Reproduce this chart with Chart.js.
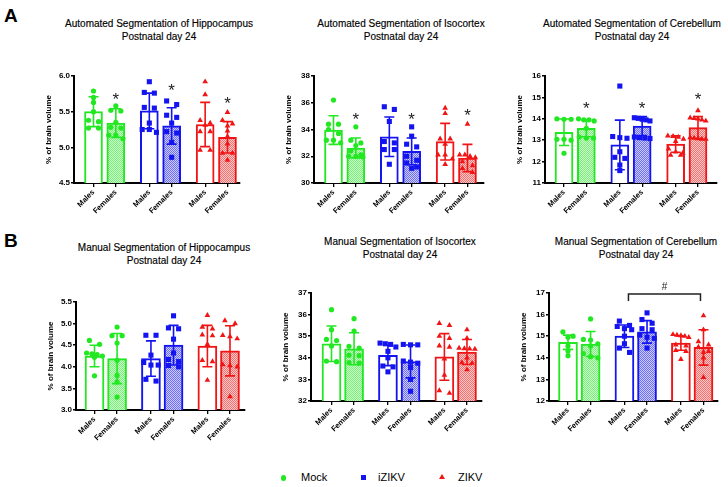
<!DOCTYPE html>
<html>
<head>
<meta charset="utf-8">
<script src="https://cdn.jsdelivr.net/npm/chart.js@4.4.0/dist/chart.umd.min.js"></script>
<style>
    body {
        margin: 0;
        width: 728px;
        height: 487px;
        background: #fff;
        position: relative;
        overflow: hidden;
        font-family: 'Liberation Sans', Arial, sans-serif;
    }
    canvas { position: absolute; }
    .panel-title {
        position: absolute;
        font-size: 10px;
        line-height: 12.5px;
        color: #000;
        text-align: center;
        white-space: nowrap;
        transform: translateX(-50%);
        -webkit-text-stroke: 0.15px #000;
    }
    .tag { position: absolute; font-size: 19px; font-weight: bold; color: #000; }
    .lg-text { position: absolute; font-size: 11px; line-height: 13px; color: #000; }
    .lg-mark { position: absolute; }
</style>
</head>
<body>

<div class="tag" style="left:4px; top:5px">A</div>
<div class="tag" style="left:4px; top:230px">B</div>

<div class="panel-title" style="left:159px; top:18px">Automated Segmentation of Hippocampus<br>Postnatal day 24</div>
<div class="panel-title" style="left:401px; top:18px">Automated Segmentation of Isocortex<br>Postnatal day 24</div>
<div class="panel-title" style="left:632px; top:18px">Automated Segmentation of Cerebellum<br>Postnatal day 24</div>
<div class="panel-title" style="left:164px; top:242px">Manual Segmentation of Hippocampus<br>Postnatal day 24</div>
<div class="panel-title" style="left:400px; top:236px">Manual Segmentation of Isocortex<br>Postnatal day 24</div>
<div class="panel-title" style="left:636px; top:236px">Manual Segmentation of Cerebellum<br>Postnatal day 24</div>

<!-- legend -->
<div class="lg-mark" style="left:280.5px; top:475px; width:5.5px; height:5.5px; border-radius:50%; background:#22e822"></div>
<div class="lg-text" style="left:301px; top:471px">Mock</div>
<div class="lg-mark" style="left:360.5px; top:474.5px; width:5px; height:5px; background:#1414f0"></div>
<div class="lg-text" style="left:378px; top:471px">iZIKV</div>
<div class="lg-mark" style="left:439px; top:474px; width:0; height:0; border-left:3px solid transparent; border-right:3px solid transparent; border-bottom:5.5px solid #f01414"></div>
<div class="lg-text" style="left:458px; top:471px">ZIKV</div>

<script>
Chart.defaults.font.family = "'Liberation Sans', Arial, sans-serif";

// ============== DATA ==============
const categories = ['Males', 'Females', 'Males', 'Females', 'Males', 'Females'];
const groups = ['Mock', 'Mock', 'iZIKV', 'iZIKV', 'ZIKV', 'ZIKV'];
const slots = [0, 1, 2.5, 3.5, 5, 6];

// A - automated segmentation, hippocampus
const autoHippoTicks = [4.5, 5.0, 5.5, 6.0];
const autoHippoMean = [5.50, 5.34, 5.51, 5.30, 5.32, 5.14];
const autoHippoSD = [0.21, 0.20, 0.25, 0.255, 0.31, 0.22];
const autoHippoPts = [
    [5.79, 5.70, 5.63, 5.50, 5.38, 5.36, 5.27, 5.27],
    [5.58, 5.52, 5.51, 5.35, 5.28, 5.27, 5.17, 5.17, 5.12],
    [5.92, 5.77, 5.76, 5.56, 5.55, 5.34, 5.25, 5.25, 5.21],
    [5.65, 5.60, 5.45, 5.42, 5.34, 5.22, 5.20, 5.07, 4.86],
    [5.92, 5.74, 5.38, 5.34, 5.31, 5.22, 5.22, 4.96, 4.96],
    [5.49, 5.38, 5.33, 5.30, 5.23, 5.15, 5.05, 4.92, 4.92, 4.82]
];
const autoHippoStars = [null, 5.73, null, 5.85, null, 5.68];

// A - automated segmentation, isocortex
const autoIsoTicks = [30, 32, 34, 36, 38];
const autoIsoMean = [33.96, 32.62, 33.46, 32.37, 33.09, 31.87];
const autoIsoSD = [1.07, 0.74, 1.48, 1.0, 1.37, 1.02];
const autoIsoPts = [
    [36.2, 34.4, 34.4, 34.0, 33.7, 33.2, 33.2, 33.0],
    [34.2, 33.2, 33.0, 32.8, 32.4, 32.1, 32.0, 32.0, 31.95],
    [35.7, 35.5, 34.6, 33.1, 33.0, 32.5, 32.5, 31.4],
    [34.2, 33.5, 32.9, 32.7, 32.0, 31.7, 31.5, 31.2, 31.1],
    [35.6, 35.2, 33.3, 33.3, 32.9, 32.1, 32.1, 31.8, 31.4],
    [34.4, 32.1, 32.1, 32.0, 31.9, 31.6, 31.3, 31.1, 30.8]
];
const autoIsoStars = [null, 35.08, null, 35.08, null, 35.33];

// A - automated segmentation, cerebellum
const autoCereTicks = [11, 12, 13, 14, 15, 16];
const autoCereMean = [13.37, 13.55, 12.78, 13.66, 12.82, 13.59];
const autoCereSD = [0.62, 0.39, 1.16, 0.44, 0.38, 0.51];
const autoCerePts = [
    [14.0, 13.98, 13.98, 13.04, 13.04, 13.0, 12.39],
    [14.0, 13.95, 13.95, 13.9, 13.55, 13.15, 13.1, 13.1],
    [15.53, 13.17, 13.12, 13.09, 12.46, 12.2, 12.15, 11.84, 11.58],
    [14.05, 14.02, 13.98, 13.95, 13.9, 13.15, 13.12, 13.1, 13.08],
    [13.2, 13.18, 13.15, 13.05, 12.95, 12.6, 12.45, 12.4, 12.3, 12.3],
    [14.38, 14.05, 14.02, 14.0, 13.95, 13.9, 13.12, 13.1, 13.08, 13.05, 13.05]
];
const autoCereStars = [null, 14.69, null, 14.69, null, 15.11];

// B - manual segmentation, hippocampus
const manHippoTicks = [3.0, 3.5, 4.0, 4.5, 5.0, 5.5];
const manHippoMean = [4.25, 4.19, 4.19, 4.50, 4.48, 4.37];
const manHippoSD = [0.25, 0.58, 0.41, 0.46, 0.48, 0.58];
const manHippoPts = [
    [4.61, 4.52, 4.32, 4.30, 4.28, 4.25, 4.22, 3.79],
    [4.92, 4.72, 4.72, 4.55, 4.15, 3.80, 3.65, 3.30],
    [4.73, 4.73, 4.27, 4.10, 4.04, 4.04, 3.71, 3.67],
    [5.18, 4.90, 4.88, 4.64, 4.32, 4.17, 4.12, 4.03, 4.00],
    [5.19, 4.92, 4.88, 4.74, 4.72, 4.52, 4.15, 4.12, 3.69],
    [5.07, 5.00, 4.73, 4.70, 4.65, 4.05, 4.03, 4.00, 3.31]
];

// B - manual segmentation, isocortex
const manIsoTicks = [32, 33, 34, 35, 36, 37];
const manIsoMean = [34.65, 34.42, 34.11, 33.83, 34.04, 34.27];
const manIsoSD = [0.82, 0.74, 0.47, 0.76, 1.08, 0.58];
const manIsoPts = [
    [36.23, 35.3, 34.85, 34.8, 34.55, 33.85, 33.82],
    [35.81, 35.24, 34.53, 34.45, 34.12, 34.1, 33.78, 33.75],
    [34.68, 34.65, 34.62, 34.5, 34.3, 34.0, 33.62, 33.58, 33.35],
    [34.62, 34.6, 34.6, 33.85, 33.8, 33.75, 33.55, 33.0, 32.45],
    [35.6, 35.5, 35.0, 34.9, 34.55, 34.5, 33.95, 33.2, 32.48, 32.36],
    [35.3, 34.9, 34.45, 34.43, 34.42, 34.4, 34.0, 33.78, 33.75, 33.45]
];

// B - manual segmentation, cerebellum
const manCereTicks = [12, 13, 14, 15, 16, 17];
const manCereMean = [14.72, 14.64, 15.0, 15.2, 14.68, 14.48];
const manCereSD = [0.33, 0.58, 0.52, 0.52, 0.33, 0.82];
const manCerePts = [
    [15.2, 15.0, 14.95, 14.55, 14.32, 14.1],
    [15.8, 14.85, 14.82, 14.65, 14.55, 14.2, 14.05, 14.0],
    [15.7, 15.5, 15.45, 15.35, 15.3, 15.0, 14.65, 14.45, 14.25],
    [16.08, 15.77, 15.6, 15.35, 15.3, 15.05, 14.95, 14.9, 14.45],
    [15.08, 15.05, 15.03, 15.0, 14.95, 14.6, 14.55, 14.35, 14.3, 13.93],
    [15.95, 15.3, 14.75, 14.6, 14.5, 14.3, 14.25, 14.0, 13.1]
];
// iZIKV males vs ZIKV females
const manCereBracket = { from: 2, to: 5, y: 16.95, label: '#' };

// ============== STYLE ==============
const groupColors = {
    'Mock': '#22e822',
    'iZIKV': '#1414f0',
    'ZIKV': '#f01414'
};
const groupShapes = {
    'Mock': { style: 'circle', radius: 2.6 },
    'iZIKV': { style: 'rect', radius: 3.6 },
    'ZIKV': { style: 'triangle', radius: 3.3 }
};

// fine checkered fill used for the female bars
function checker(color) {
    const c = document.createElement('canvas');
    c.width = c.height = 2;
    const g = c.getContext('2d');
    g.fillStyle = '#fff';
    g.fillRect(0, 0, 2, 2);
    g.fillStyle = color;
    g.globalAlpha = 0.22;
    g.fillRect(0, 0, 2, 2);
    g.globalAlpha = 0.5;
    g.fillRect(0, 0, 1, 1);
    g.fillRect(1, 1, 1, 1);
    return g.createPattern(c, 'repeat');
}

// spread points of (almost) equal value side by side, like a column scatter
function columnScatter(values, center, tol) {
    const sorted = [...values].sort((a, b) => b - a);
    const pts = [];
    let k = 0;
    while (k < sorted.length) {
        let j = k;
        while (j + 1 < sorted.length && sorted[k] - sorted[j + 1] < tol) j++;
        const n = j - k + 1;
        const step = n === 1 ? 0 : n === 2 ? 0.45 : Math.min(0.32, 0.7 / (n - 1));
        for (let m = 0; m < n; m++) {
            pts.push({ x: center + (m - (n - 1) / 2) * step, y: sorted[k + m] });
        }
        k = j + 1;
    }
    return pts;
}

// error bars, asterisks and the bracket
const extrasPlugin = {
    id: 'extras',
    afterDatasetDraw(chart, args, opts) {
        if (args.meta.type !== 'bar') return;
        const { ctx, scales: { x, y } } = chart;
        ctx.save();
        ctx.lineWidth = 1.6;
        opts.means.forEach((m, i) => {
            const px = x.getPixelForValue(slots[i]);
            const top = y.getPixelForValue(m + opts.sds[i]);
            const bot = y.getPixelForValue(m - opts.sds[i]);
            ctx.strokeStyle = groupColors[groups[i]];
            ctx.beginPath();
            ctx.moveTo(px, top); ctx.lineTo(px, bot);
            ctx.moveTo(px - 5, top); ctx.lineTo(px + 5, top);
            ctx.moveTo(px - 5, bot); ctx.lineTo(px + 5, bot);
            ctx.stroke();
        });
        ctx.restore();
    },
    afterDraw(chart, args, opts) {
        const { ctx, scales: { x, y } } = chart;
        ctx.save();
        ctx.fillStyle = '#222';
        ctx.textAlign = 'center';
        if (opts.stars) {
            ctx.font = "17px 'Liberation Sans', Arial, sans-serif";
            ctx.textBaseline = 'alphabetic';
            opts.stars.forEach((s, i) => {
                if (s === null) return;
                ctx.fillText('*', x.getPixelForValue(slots[i]), y.getPixelForValue(s) + 0.57 * 17);
            });
        }
        if (opts.bracket) {
            const b = opts.bracket;
            const x1 = x.getPixelForValue(slots[b.from]) + 4;
            const x2 = x.getPixelForValue(slots[b.to]) - 3;
            const yy = y.getPixelForValue(b.y);
            ctx.strokeStyle = '#222';
            ctx.lineWidth = 1.5;
            ctx.beginPath();
            ctx.moveTo(x1, yy + 7); ctx.lineTo(x1, yy); ctx.lineTo(x2, yy); ctx.lineTo(x2, yy + 7);
            ctx.stroke();
            ctx.font = "10px 'Liberation Sans', Arial, sans-serif";
            ctx.textBaseline = 'bottom';
            ctx.fillText(b.label, (x1 + x2) / 2, yy - 2);
        }
        ctx.restore();
    }
};

// ============== PANELS ==============
const padL = 70, padT = 14, padR = 10, padB = 52;

function makePanel(cfg) {
    const { box, c0, unit, ticks, decimals, means, sds, pts } = cfg;
    const canvas = document.createElement('canvas');
    canvas.width = box.r - box.l + padL + padR;
    canvas.height = box.b - box.t + padT + padB;
    canvas.style.left = (box.l - padL) + 'px';
    canvas.style.top = (box.t - padT) + 'px';
    canvas.style.width = canvas.width + 'px';
    canvas.style.height = canvas.height + 'px';
    document.body.appendChild(canvas);

    const yMin = ticks[0], yMax = ticks[ticks.length - 1];
    const tol = (yMax - yMin) * 0.04;

    const barDataset = {
        type: 'bar',
        order: 10,
        data: slots.map((s, i) => ({ x: s, y: means[i] })),
        backgroundColor: categories.map((c, i) => c === 'Males' ? '#fff' : checker(groupColors[groups[i]])),
        borderColor: groups.map(g => groupColors[g]),
        borderWidth: 2,
        barThickness: cfg.barWidth
    };
    const pointDatasets = pts.map((vals, i) => ({
        type: 'scatter',
        order: 0,
        data: columnScatter(vals, slots[i], tol),
        pointStyle: groupShapes[groups[i]].style,
        pointRadius: groupShapes[groups[i]].radius,
        backgroundColor: groupColors[groups[i]],
        borderColor: groupColors[groups[i]],
        borderWidth: 0
    }));

    return new Chart(canvas, {
        type: 'bar',
        data: { datasets: [barDataset, ...pointDatasets] },
        plugins: [extrasPlugin],
        options: {
            responsive: false,
            animation: false,
            devicePixelRatio: 1,
            layout: { padding: { top: padT, right: padR, left: 0, bottom: 0 } },
            plugins: {
                legend: { display: false },
                tooltip: { enabled: false },
                extras: { means, sds, stars: cfg.stars, bracket: cfg.bracket }
            },
            scales: {
                x: {
                    type: 'linear',
                    offset: false,
                    min: (box.l - c0) / unit,
                    max: (box.r - c0) / unit,
                    afterBuildTicks: s => { s.ticks = slots.map(v => ({ value: v })); },
                    afterFit: s => { s.height = padB; },
                    ticks: {
                        autoSkip: false,
                        minRotation: 45,
                        maxRotation: 45,
                        padding: 1,
                        color: '#000',
                        font: { size: 7.5, weight: 'bold' },
                        callback: (v, i) => categories[i]
                    },
                    grid: { offset: false, drawOnChartArea: false, tickLength: 4, color: '#000', lineWidth: 1.3 },
                    border: { color: '#000', width: 2 }
                },
                y: {
                    type: 'linear',
                    beginAtZero: false,
                    min: yMin,
                    max: yMax,
                    afterBuildTicks: s => { s.ticks = ticks.map(v => ({ value: v })); },
                    afterFit: s => { s.width = padL; },
                    ticks: {
                        padding: 1,
                        color: '#000',
                        font: { size: 8, weight: 'bold' },
                        callback: v => v.toFixed(decimals)
                    },
                    grid: { drawOnChartArea: false, tickLength: 3, color: '#000', lineWidth: 1.5 },
                    border: { color: '#000', width: 2 },
                    title: {
                        display: true,
                        text: '% of brain volume',
                        color: '#000',
                        font: { size: 8, weight: 'bold' },
                        padding: { top: padL - 25 - 4.8, bottom: 0 }
                    }
                }
            }
        }
    });
}

makePanel({ box: { l: 74, t: 76, r: 240, b: 183 }, c0: 93.5, unit: 22.33, barWidth: 18,
    ticks: autoHippoTicks, decimals: 1, means: autoHippoMean, sds: autoHippoSD, pts: autoHippoPts, stars: autoHippoStars });
makePanel({ box: { l: 314, t: 76, r: 484, b: 183 }, c0: 333.5, unit: 22.33, barWidth: 18,
    ticks: autoIsoTicks, decimals: 0, means: autoIsoMean, sds: autoIsoSD, pts: autoIsoPts, stars: autoIsoStars });
makePanel({ box: { l: 545, t: 76, r: 717, b: 183 }, c0: 564, unit: 22.33, barWidth: 18,
    ticks: autoCereTicks, decimals: 0, means: autoCereMean, sds: autoCereSD, pts: autoCerePts, stars: autoCereStars });

makePanel({ box: { l: 76, t: 302, r: 245, b: 410 }, c0: 94.5, unit: 22.58, barWidth: 19,
    ticks: manHippoTicks, decimals: 1, means: manHippoMean, sds: manHippoSD, pts: manHippoPts });
makePanel({ box: { l: 311, t: 293, r: 482, b: 401 }, c0: 331.5, unit: 22.58, barWidth: 19,
    ticks: manIsoTicks, decimals: 0, means: manIsoMean, sds: manIsoSD, pts: manIsoPts });
makePanel({ box: { l: 549, t: 293, r: 718, b: 401 }, c0: 568, unit: 22.58, barWidth: 19,
    ticks: manCereTicks, decimals: 0, means: manCereMean, sds: manCereSD, pts: manCerePts, bracket: manCereBracket });
</script>
</body>
</html>
